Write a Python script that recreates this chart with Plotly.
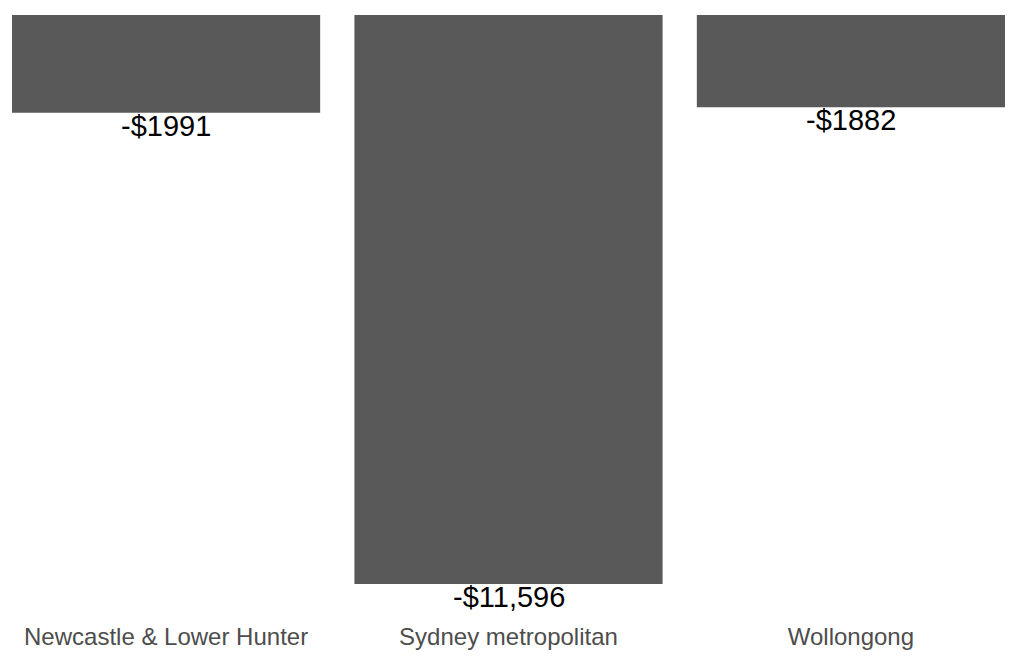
import plotly.graph_objects as go

regions = ["Newcastle & Lower Hunter", "Sydney metropolitan", "Wollongong"]
values = [-1991, -11596, -1882]
labels = ["-$1991", "-$11,596", "-$1882"]

fig = go.Figure(
    go.Bar(
        x=regions,
        y=values,
        marker=dict(color="#595959", line=dict(width=0)),
        hoverinfo="skip",
    )
)

for r, v, t in zip(regions, values, labels):
    fig.add_annotation(
        x=r, y=v, text=t, showarrow=False,
        xanchor="center", yanchor="top", yshift=5,
        font=dict(family="Liberation Sans, Arial", size=29, color="#000000"),
    )

fig.update_layout(
    width=1021,
    height=660,
    margin=dict(l=4, r=24, t=7, b=84),
    paper_bgcolor="white",
    plot_bgcolor="white",
    bargap=0.1,
    showlegend=False,
    xaxis=dict(
        range=[-0.45, 2.45],
        showgrid=False,
        zeroline=False,
        showline=False,
        ticks="",
        ticklabelstandoff=36,
        tickfont=dict(family="Liberation Sans, Arial", size=24, color="#4d4d4d"),
    ),
    yaxis=dict(
        range=[-11596, 0],
        showgrid=False,
        zeroline=False,
        showline=False,
        showticklabels=False,
        ticks="",
    ),
)

fig.write_html("out.html")
